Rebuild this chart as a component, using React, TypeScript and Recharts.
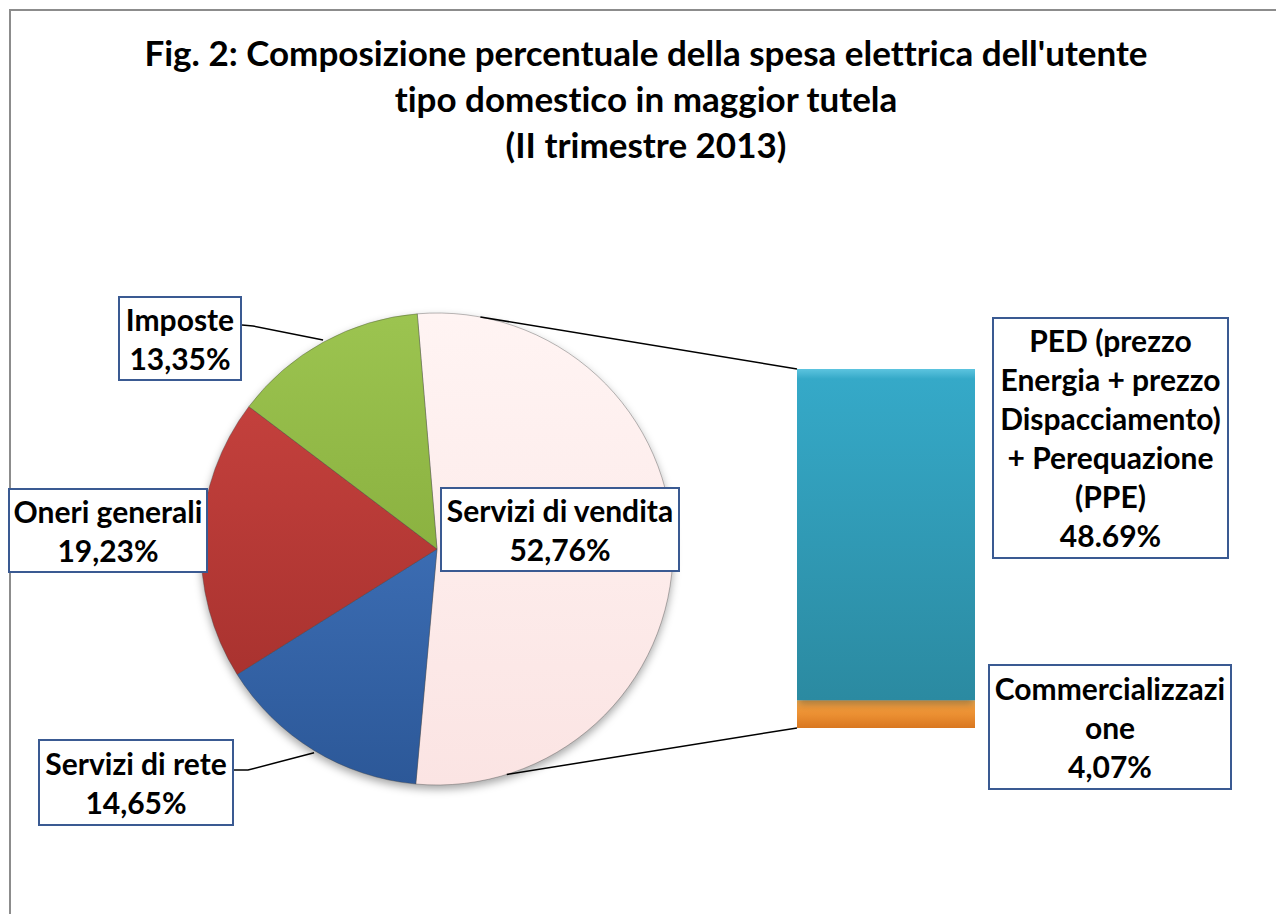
import { Bar, BarChart, Cell, Pie, PieChart, XAxis, YAxis } from "recharts"

// pie slices, clockwise from the top
const sliceNames = ["Servizi di vendita", "Servizi di rete", "Oneri generali", "Imposte"]
const sliceValues = [52.76, 14.65, 19.23, 13.35]

// breakdown of "Servizi di vendita" (bottom to top of the bar)
const barNames = ["Commercializzazi\none", "PED (prezzo\nEnergia + prezzo\nDispacciamento)\n+ Perequazione\n(PPE)"]
const barValues = [4.07, 48.69]
const barSeparators = [",", "."]

const titleLines = [
  "Fig. 2: Composizione percentuale della spesa elettrica dell'utente",
  "tipo domestico in maggior tutela",
  "(II trimestre 2013)",
]

const FONT = "Lato, 'Open Sans', sans-serif"
const W = 1276
const H = 906

const CX = 429
const CY = 541
const R = 236
const START = 94.8

const BAR_LEFT = 789
const BAR_TOP = 361
const BAR_W = 178
const BAR_H = 359

const sliceGrad = [
  ["#fff4f3", "#fbe4e3"],
  ["#4a80cc", "#2c5898"],
  ["#cc4541", "#9f2d2a"],
  ["#9cc450", "#7a9f31"],
]

const pieData = sliceNames.map((name, i) => ({ name, value: sliceValues[i] }))
const barData = [{ cat: sliceNames[0], comm: barValues[0], ped: barValues[1] }]

const fmt = (v: number, sep = ",") => v.toFixed(2).replace(".", sep) + "%"

const pt = (deg: number, r = R) => {
  const a = (deg * Math.PI) / 180
  return [CX + r * Math.cos(a), CY - r * Math.sin(a)]
}

type Box = { text: string; left: number; top: number; width: number; height: number }

const boxes: Box[] = [
  { text: `${sliceNames[0]}\n${fmt(sliceValues[0])}`, left: 432, top: 479, width: 240, height: 85 },
  { text: `${sliceNames[1]}\n${fmt(sliceValues[1])}`, left: 30, top: 731, width: 196, height: 87 },
  { text: `${sliceNames[2]}\n${fmt(sliceValues[2])}`, left: 0, top: 480, width: 200, height: 85 },
  { text: `${sliceNames[3]}\n${fmt(sliceValues[3])}`, left: 110, top: 288, width: 124, height: 85 },
  { text: `${barNames[1]}\n${fmt(barValues[1], barSeparators[1])}`, left: 984, top: 309, width: 237, height: 242 },
  { text: `${barNames[0]}\n${fmt(barValues[0], barSeparators[0])}`, left: 980, top: 656, width: 244, height: 126 },
]

function Connectors() {
  const [tx, ty] = pt(79.4)
  const [bx, by] = pt(-72.8)
  const [ix, iy] = pt(118.6, 238)
  const [rx, ry] = pt(-121.1, 238)
  return (
    <svg width={W} height={H} style={{ position: "absolute", left: 0, top: 0 }}>
      <line x1={tx} y1={ty} x2={BAR_LEFT} y2={BAR_TOP} stroke="#000" strokeWidth={1.5} />
      <line x1={bx} y1={by} x2={BAR_LEFT} y2={BAR_TOP + BAR_H} stroke="#000" strokeWidth={1.5} />
      <polyline points={`234,317 245,318 ${ix},${iy}`} fill="none" stroke="#000" strokeWidth={1.5} />
      <polyline points={`226,762 240,762 ${rx},${ry}`} fill="none" stroke="#000" strokeWidth={1.5} />
    </svg>
  )
}

export default function App() {
  return (
    <div
      style={{
        position: "relative",
        width: W,
        height: H,
        overflow: "hidden",
        background: "#fff",
        fontFamily: FONT,
        fontVariantLigatures: "none",
      }}
    >
      <style>{`.recharts-pie, .recharts-bar { filter: drop-shadow(0 4px 4px rgba(0,0,0,0.35)); }`}</style>
      <div style={{ position: "absolute", left: 1, top: 1, width: W + 20, height: H + 20, border: "2px solid #8c8c8c", boxSizing: "border-box" }} />

      <div style={{ position: "absolute", left: 0, top: 21, width: W, textAlign: "center", fontWeight: 700, fontSize: 35, lineHeight: "46px", color: "#000" }}>
        {titleLines.map((l) => (
          <div key={l}>{l}</div>
        ))}
      </div>

      <div style={{ position: "absolute", left: 0, top: 0 }}>
        <PieChart width={W} height={H} margin={{ top: 0, right: 0, bottom: 0, left: 0 }}>
          <defs>
            {sliceGrad.map(([a, b], i) => (
              <linearGradient key={i} id={`sg${i}`} x1={0} y1={CY - R} x2={0} y2={CY + R} gradientUnits="userSpaceOnUse">
                <stop offset="0%" stopColor={a} />
                <stop offset="100%" stopColor={b} />
              </linearGradient>
            ))}
          </defs>
          <Pie
            data={pieData}
            dataKey="value"
            nameKey="name"
            cx={CX}
            cy={CY}
            outerRadius={R}
            startAngle={START}
            endAngle={START - 360}
            stroke="rgba(60,60,60,0.35)"
            strokeWidth={1}
            isAnimationActive={false}
          >
            {pieData.map((d, i) => (
              <Cell key={d.name} fill={`url(#sg${i})`} />
            ))}
          </Pie>
        </PieChart>
      </div>

      <div style={{ position: "absolute", left: BAR_LEFT, top: BAR_TOP }}>
        <BarChart width={BAR_W} height={BAR_H} data={barData} margin={{ top: 0, right: 0, bottom: 0, left: 0 }} barCategoryGap={0}>
          <defs>
            <linearGradient id="teal" x1="0" y1="0" x2="0" y2="1">
              <stop offset="0%" stopColor="#5cc4df" />
              <stop offset="3%" stopColor="#35a9c8" />
              <stop offset="100%" stopColor="#2b8aa1" />
            </linearGradient>
            <linearGradient id="orange" x1="0" y1="0" x2="0" y2="1">
              <stop offset="0%" stopColor="#fbb65a" />
              <stop offset="30%" stopColor="#f39a3a" />
              <stop offset="100%" stopColor="#d97720" />
            </linearGradient>
          </defs>
          <XAxis dataKey="cat" hide />
          <YAxis hide domain={[0, "dataMax"]} />
          <Bar dataKey="comm" stackId="s" fill="url(#orange)" isAnimationActive={false} />
          <Bar dataKey="ped" stackId="s" fill="url(#teal)" isAnimationActive={false} />
        </BarChart>
      </div>

      <Connectors />

      {boxes.map((b) => (
        <div
          key={b.text}
          style={{
            position: "absolute",
            left: b.left,
            top: b.top,
            width: b.width,
            height: b.height,
            boxSizing: "border-box",
            border: "2px solid #3a5a92",
            background: "#fff",
            display: "flex",
            alignItems: "center",
            justifyContent: "center",
            textAlign: "center",
            whiteSpace: "pre-line",
            fontWeight: 700,
            fontSize: 30,
            lineHeight: "39px",
            color: "#000",
          }}
        >
          {b.text}
        </div>
      ))}
    </div>
  )
}
